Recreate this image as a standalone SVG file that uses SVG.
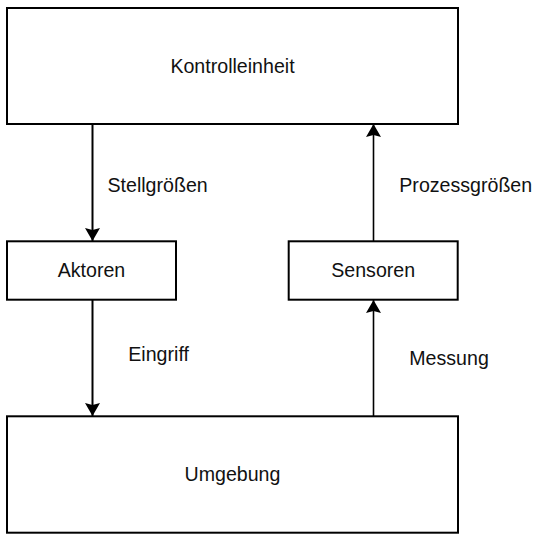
<svg xmlns="http://www.w3.org/2000/svg" width="540" height="542" viewBox="0 0 540 542">
<style>
.box{fill:#fff;stroke:#000;stroke-width:2}
.t{font-family:"Liberation Sans",Arial,sans-serif;font-size:19.6px;fill:#111}
.c{text-anchor:middle}
.l{fill:none;stroke:#000}
</style>
<defs>
<marker id="ah" viewBox="0 0 13 15" refX="13" refY="7.5" markerWidth="13" markerHeight="15" markerUnits="userSpaceOnUse" orient="auto">
<path d="M0,0 L13,7.5 L0,15 L2,7.5 z" fill="#000"/>
</marker>
</defs>
<rect width="540" height="542" fill="#fff"/>
<g id="connectors">
<line class="l" x1="92.5" y1="125" x2="92.5" y2="241" stroke-width="2" marker-end="url(#ah)"/>
<line class="l" x1="92.5" y1="300" x2="92.5" y2="416" stroke-width="2" marker-end="url(#ah)"/>
<line class="l" x1="373.5" y1="416" x2="373.5" y2="300" stroke-width="1.6" marker-end="url(#ah)"/>
<line class="l" x1="373.5" y1="241" x2="373.5" y2="124" stroke-width="1.6" marker-end="url(#ah)"/>
<text class="t" x="107.5" y="192.3">Stellgrößen</text>
<text class="t" x="399.3" y="191.7">Prozessgrößen</text>
<text class="t" x="128.3" y="361">Eingriff</text>
<text class="t" x="409.3" y="365">Messung</text>
</g>
<g id="kontrolleinheit">
<rect class="box" x="7" y="8" width="451" height="116"/>
<text class="t c" x="232.5" y="73">Kontrolleinheit</text>
</g>
<g id="aktoren">
<rect class="box" x="7" y="241.3" width="169" height="58.4"/>
<text class="t c" x="91.5" y="277">Aktoren</text>
</g>
<g id="sensoren">
<rect class="box" x="288.7" y="241.3" width="169" height="58.4"/>
<text class="t c" x="373.2" y="277">Sensoren</text>
</g>
<g id="umgebung">
<rect class="box" x="7" y="416.3" width="451" height="116.4"/>
<text class="t c" x="232.5" y="481">Umgebung</text>
</g>
</svg>
